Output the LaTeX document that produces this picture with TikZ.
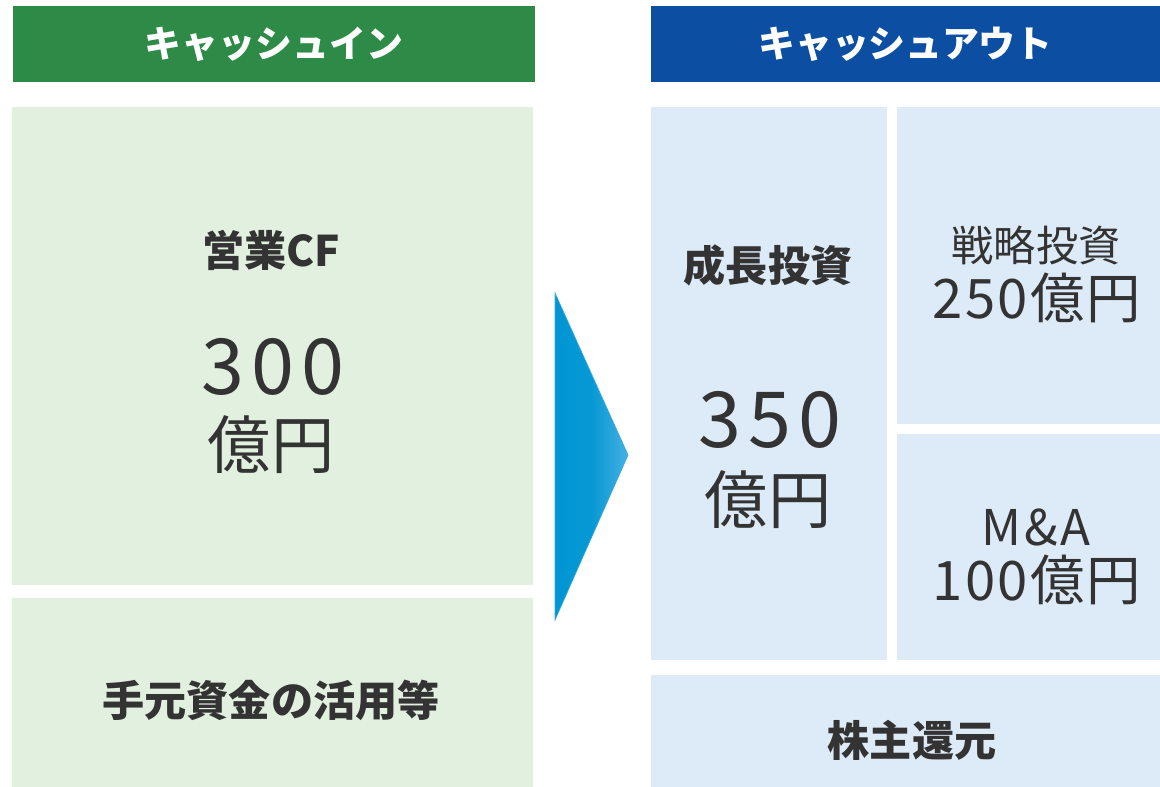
\documentclass[tikz,border=0pt]{standalone}
\usepackage{fontspec}
\setmainfont{Noto Sans CJK JP}
\usetikzlibrary{positioning}
\definecolor{ingreen}{HTML}{2E8B47}
\definecolor{outblue}{HTML}{0C4EA2}
\definecolor{palegreen}{HTML}{E2F0DF}
\definecolor{paleblue}{HTML}{DDEAF7}
\definecolor{textgray}{HTML}{333333}
\definecolor{arrowdark}{HTML}{0096D3}
\definecolor{arrowlight}{HTML}{45B0E2}
\tikzstyle{head}=[inner sep=0pt,text=white,font=\bfseries\fontsize{21}{25}\selectfont]
\tikzstyle{cell}=[inner sep=0pt,draw=none]
\tikzstyle{label}=[text=textgray,font=\bfseries\fontsize{24}{28}\selectfont]
\tikzstyle{big}=[text=textgray,font=\fontsize{44}{50}\selectfont\addfontfeature{LetterSpace=9}]
\tikzstyle{unit}=[text=textgray,font=\fontsize{36}{40}\selectfont]
\tikzstyle{small}=[text=textgray,font=\fontsize{24}{28}\selectfont]
\tikzstyle{amount}=[text=textgray,font=\fontsize{31}{35}\selectfont\addfontfeature{LetterSpace=4}]

\begin{document}
\begin{tikzpicture}[x=0.02cm,y=-0.02cm]
    \useasboundingbox (0,0) rectangle (1160,787);
    % headers
    \node[head,fill=ingreen,minimum width=10.44cm,minimum height=1.52cm] (inhead) at (274,44) {};
    \node[head,fill=outblue,minimum width=10.18cm,minimum height=1.52cm] (outhead) at (905.5,44) {};
    \node[head] (intitle) at (inhead) {キャッシュイン};
    \node[head] (outtitle) at (outhead) {キャッシュアウト};
    % cash in side
    \node[cell,fill=palegreen,minimum width=10.42cm,minimum height=9.56cm] (cfbox) at (272.5,346) {};
    \node[cell,fill=palegreen,minimum width=10.42cm,minimum height=3.78cm] (fundbox) at (272.5,692.5) {};
    \node[label] (cflabel) at (271,250) {営業CF};
    \node[big] (cfnum) at (273,367) {300};
    \node[unit] (cfunit) at (271,445) {億円};
    \node[label] (fundlabel) at (271,700) {手元資金の活用等};
    % arrow
    \shade[left color=arrowdark,right color=arrowlight,middle color=arrowdark!90!arrowlight,draw=arrowdark!80,line width=0.4pt]
        (555,293) -- (628,455) -- (555,620) -- cycle;
    % cash out side
    \node[cell,fill=paleblue,minimum width=4.72cm,minimum height=11.06cm] (growbox) at (769,383.5) {};
    \node[cell,fill=paleblue,minimum width=5.26cm,minimum height=6.34cm] (stratbox) at (1028.5,265.5) {};
    \node[cell,fill=paleblue,minimum width=5.26cm,minimum height=4.52cm] (mabox) at (1028.5,547) {};
    \node[cell,fill=paleblue,minimum width=10.18cm,minimum height=2.24cm] (retbox) at (905.5,731) {};
    \node[label] (growlabel) at (768,265) {成長投資};
    \node[big] (grownum) at (770,420) {350};
    \node[unit] (growunit) at (768,500) {億円};
    \node[small] (stratlabel) at (1036,245) {戦略投資};
    \node[amount] (stratnum) at (1037,298) {250億円};
    \node[small,font=\fontsize{28}{32}\selectfont\addfontfeature{LetterSpace=6}] (malabel) at (1036,527) {M\&A};
    \node[amount] (manum) at (1037,580) {100億円};
    \node[label] (retlabel) at (912,740) {株主還元};
\end{tikzpicture}
\end{document}
